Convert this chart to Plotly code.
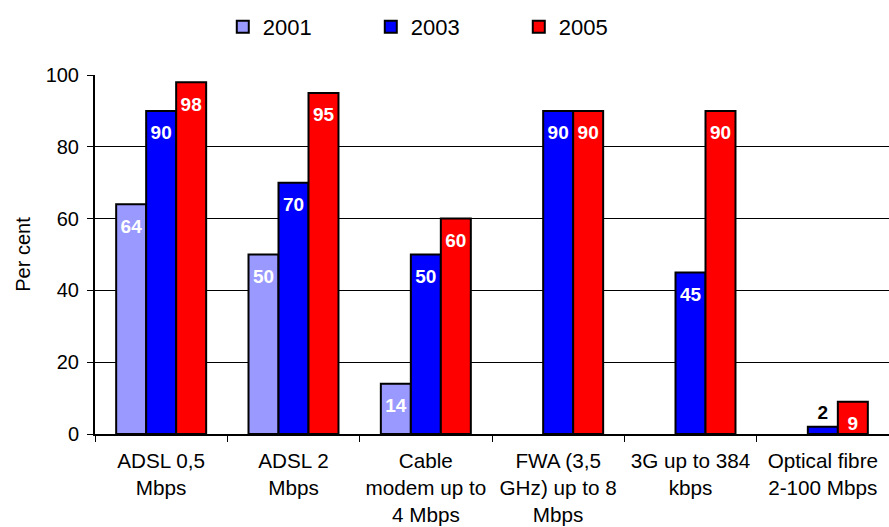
import plotly.graph_objects as go

# Broadband access technologies and share of coverage (per cent)
categories = [
    "ADSL 0,5<br>Mbps",
    "ADSL 2<br>Mbps",
    "Cable<br>modem up to<br>4 Mbps",
    "FWA (3,5<br>GHz) up to 8<br>Mbps",
    "3G up to 384<br>kbps",
    "Optical fibre<br>2-100 Mbps",
]
years = ["2001", "2003", "2005"]
values_2001 = [64, 50, 14, None, None, None]
values_2003 = [90, 70, 50, 90, 45, 2]
values_2005 = [98, 95, 60, 90, 90, 9]
y_ticks = [0, 20, 40, 60, 80, 100]

colors = {"2001": "#9999ff", "2003": "#0000ff", "2005": "#ff0000"}
series = {"2001": values_2001, "2003": values_2003, "2005": values_2005}

FONT = "Arial, Liberation Sans, sans-serif"
GAP = 0.32

fig = go.Figure()
for yr in years:
    vals = series[yr]
    fig.add_trace(go.Bar(
        name=yr,
        x=categories,
        y=vals,
        marker=dict(color=colors[yr], line=dict(color="black", width=2)),
        hoverinfo="skip",
    ))

# value labels, grouped the same way as the bars so each sits on its own bar;
# very short bars get a black label just above the bar
for yr in years:
    vals = series[yr]
    small = [v is not None and v < 5 for v in vals]
    fig.add_trace(go.Scatter(
        x=categories,
        y=vals,
        mode="markers+text",
        marker=dict(size=[4 if s else 21 for s in small], opacity=0),
        text=[("" if v is None else str(v)) for v in vals],
        textposition=["top center" if s else "bottom center" for s in small],
        textfont=dict(family=FONT, size=19, weight="bold",
                      color=["black" if s else "white" for s in small]),
        showlegend=False,
        hoverinfo="skip",
        cliponaxis=False,
    ))

fig.update_layout(
    width=889,
    height=527,
    margin=dict(l=95, r=0, t=75, b=93),
    paper_bgcolor="white",
    plot_bgcolor="white",
    barmode="group",
    bargap=GAP,
    bargroupgap=0,
    scattermode="group",
    scattergap=GAP,
    font=dict(family=FONT, size=20, color="black"),
    legend=dict(
        orientation="h",
        xref="container",
        yref="container",
        x=0.2506,
        xanchor="left",
        y=0.949,
        yanchor="middle",
        font=dict(family=FONT, size=22, color="black"),
        entrywidth=103,
        entrywidthmode="pixels",
        bgcolor="rgba(0,0,0,0)",
        traceorder="normal",
    ),
    showlegend=True,
)

fig.update_xaxes(
    showline=True,
    linecolor="black",
    linewidth=2,
    ticks="outside",
    ticklen=6,
    tickcolor="black",
    tickwidth=1,
    tickson="boundaries",
    ticklabelstandoff=7,
    automargin=False,
    showgrid=False,
    tickfont=dict(family=FONT, size=20.7, color="black"),
)
fig.update_yaxes(
    range=[0, 100],
    tickvals=y_ticks,
    showline=True,
    linecolor="black",
    linewidth=2,
    ticks="outside",
    ticklen=6,
    tickcolor="black",
    tickwidth=1,
    ticklabelstandoff=4,
    showgrid=True,
    gridcolor="black",
    gridwidth=1,
    zeroline=False,
    tickfont=dict(family=FONT, size=20, color="black"),
    title=dict(text="Per cent", font=dict(family=FONT, size=20, color="black"), standoff=10),
)

fig.write_html("out.html")
